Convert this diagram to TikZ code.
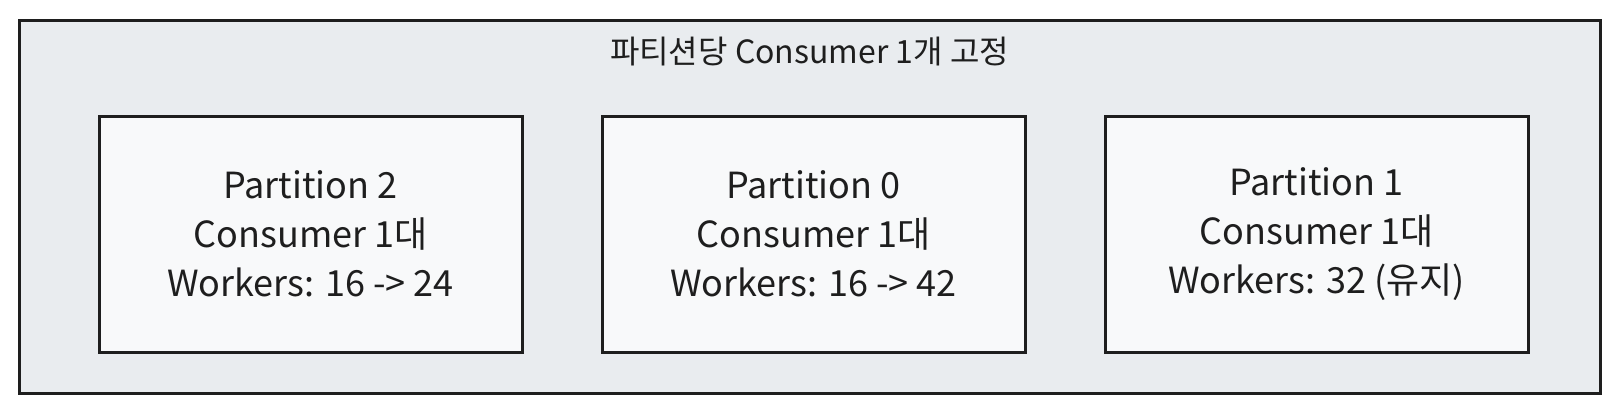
\documentclass[tikz,border=0pt]{standalone}
\usepackage{fontspec}
\setmainfont{Noto Sans CJK KR}
\usepackage{xcolor}
\usepackage{tikz}
\usetikzlibrary{positioning}
\definecolor{groupgray}{HTML}{E9ECEF}
\definecolor{boxwhite}{HTML}{F8F9FA}
\definecolor{inkblack}{HTML}{1E1E1E}

\begin{document}
\begin{tikzpicture}[x=1pt,y=-1pt]
    \useasboundingbox (0,0) rectangle (1620,413);
    % group frame
    \node[draw=inkblack,line width=3pt,fill=groupgray,minimum width=1581pt,minimum height=373pt] (group) at (809.5,206.5) {};
    \node[font=\fontsize{32}{36}\selectfont,text=inkblack] (title) at (809.5,52) {파티션당 Consumer 1개 고정};
    % partitions
    \tikzset{partbox/.style={draw=inkblack,line width=3pt,fill=boxwhite,align=center,minimum width=423pt,minimum height=236pt,font=\fontsize{36}{49}\selectfont,text=inkblack}}
    \node[partbox] (p2) at (310.5,234) {Partition 2\\Consumer 1대\\Workers: 16 -> 24};
    \node[partbox,right=77pt of p2] (p0) {Partition 0\\Consumer 1대\\Workers: 16 -> 42};
    \node[partbox,right=77pt of p0] (p1) {Partition 1\\Consumer 1대\\Workers: 32 (유지)};
\end{tikzpicture}
\end{document}
